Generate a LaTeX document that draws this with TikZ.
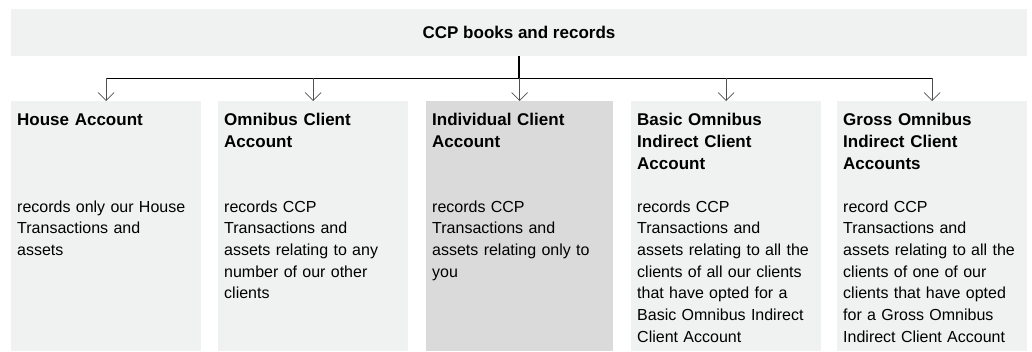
\documentclass[tikz,border=0pt]{standalone}
\usepackage{fontspec}
\setmainfont{Liberation Sans}
\usetikzlibrary{arrows.meta}
\definecolor{boxgray}{HTML}{F0F1F1}
\definecolor{hilite}{HTML}{DADADA}
\definecolor{shaft}{HTML}{505050}
\tikzset{
  panel/.style={fill=boxgray, draw=none, anchor=north west, minimum width=190pt, minimum height=250pt, inner sep=0pt},
  hipanel/.style={panel, fill=hilite},
  titletext/.style={anchor=base west, inner sep=0pt, text width=182pt, align=left, font=\fontsize{17}{22}\selectfont\bfseries},
  bodytext/.style={anchor=base west, inner sep=0pt, text width=182pt, align=left, font=\fontsize{16}{21.7}\selectfont},
  busline/.style={draw=black, line width=0.8pt},
  stemline/.style={draw=black, line width=1.8pt},
  downarrow/.style={draw=shaft, line width=0.7pt, -{Straight Barb[length=8pt,width=16pt,line width=0.7pt]}}
}
\begin{document}
\begin{tikzpicture}[x=1pt,y=-1pt]
\useasboundingbox (0,0) rectangle (1032,351);
% top box
\node[fill=boxgray, minimum width=1016pt, minimum height=47pt, inner sep=0pt, anchor=north west] (top) at (11,9) {};
\node[font=\fontsize{17}{22}\selectfont\bfseries, inner sep=0pt, anchor=base] (toptext) at (519,38) {CCP books and records};
% panels
\node[panel] (b1) at (11,101) {};
\node[panel] (b2) at (218,101) {};
\node[hipanel, minimum width=187pt] (b3) at (426,101) {};
\node[panel] (b4) at (631,101) {};
\node[panel] (b5) at (837,101) {};
% titles
\node[titletext] (t1) at (17,125) {House Account};
\node[titletext] (t2) at (224,125) {Omnibus Client\\Account};
\node[titletext] (t3) at (432,125) {Individual Client\\Account};
\node[titletext] (t4) at (637,125) {Basic Omnibus\\Indirect Client\\Account};
\node[titletext] (t5) at (843,125) {Gross Omnibus\\Indirect Client\\Accounts};
% bodies
\node[bodytext] (d1) at (17,212) {records only our House\\Transactions and\\assets};
\node[bodytext] (d2) at (224,212) {records CCP\\Transactions and\\assets relating to any\\number of our other\\clients};
\node[bodytext] (d3) at (432,212) {records CCP\\Transactions and\\assets relating only to\\you};
\node[bodytext] (d4) at (637,212) {records CCP\\Transactions and\\assets relating to all the\\clients of all our clients\\that have opted for a\\Basic Omnibus Indirect\\Client Account};
\node[bodytext] (d5) at (843,212) {record CCP\\Transactions and\\assets relating to all the\\clients of one of our\\clients that have opted\\for a Gross Omnibus\\Indirect Client Account};
% connectors
\coordinate (split) at (519,78);
\coordinate (h1) at (b1.north |- split);
\coordinate (h2) at (b2.north |- split);
\coordinate (h3) at (b3.north |- split);
\coordinate (h4) at (b4.north |- split);
\coordinate (h5) at (b5.north |- split);
\draw[stemline] (top.south -| split) -- (split);
\draw[busline] (h1) -- (h5);
\foreach \i in {1,...,5}{
  \draw[downarrow] (h\i) -- (b\i.north);
}
\end{tikzpicture}
\end{document}
